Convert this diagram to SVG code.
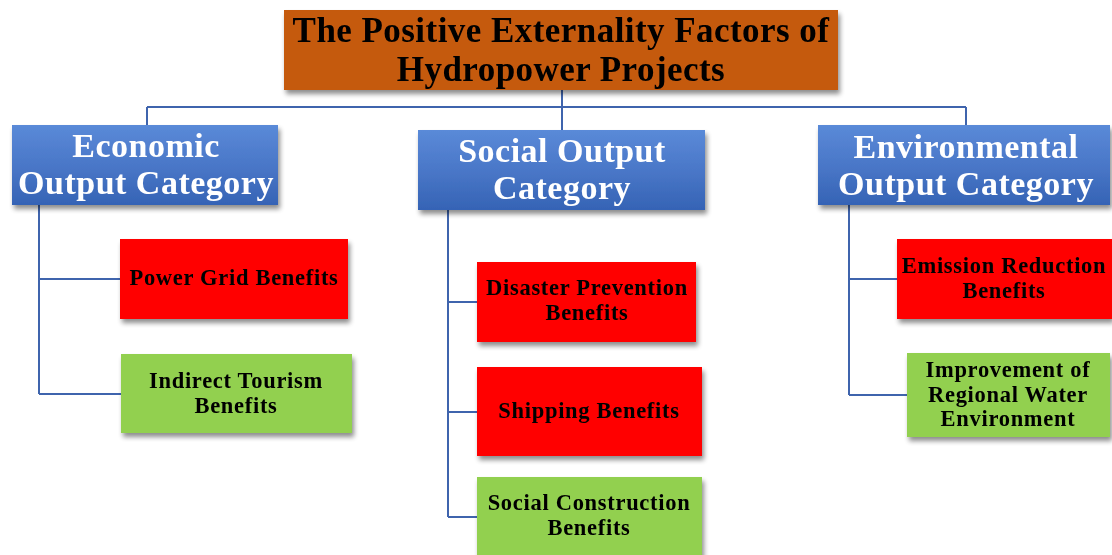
<svg xmlns="http://www.w3.org/2000/svg" width="1112" height="555" viewBox="0 0 1112 555">
<defs>
<linearGradient id="blueGrad" x1="0" y1="0" x2="0" y2="1">
<stop offset="0" stop-color="#5A8AD8"/>
<stop offset="0.5" stop-color="#4A77C8"/>
<stop offset="1" stop-color="#3563B5"/>
</linearGradient>
<filter id="shadow" x="-10%" y="-10%" width="125%" height="140%">
<feGaussianBlur in="SourceAlpha" stdDeviation="2.5"/>
<feOffset dx="2" dy="4" result="b"/>
<feComponentTransfer><feFuncA type="linear" slope="0.45"/></feComponentTransfer>
<feMerge><feMergeNode/><feMergeNode in="SourceGraphic"/></feMerge>
</filter>
</defs>
<style>
.conn{stroke:#3F64AD;stroke-width:2;fill:none}
.title{fill:#C55A11}
.cat{fill:url(#blueGrad)}
.red{fill:#FF0000}
.green{fill:#92D050}
text{font-family:"Liberation Serif","Times New Roman",serif;font-weight:bold;text-anchor:middle}
.tt{font-size:35px;fill:#000;letter-spacing:0.45px}
.ct{font-size:34px;fill:#fff;letter-spacing:0.5px}
.lt{font-size:22.5px;fill:#000;letter-spacing:0.7px}
</style>
<rect width="1112" height="555" fill="#fff"/>
<g id="connectors">
<path class="conn" d="M562 90 V107 M147 107 H966 M147 107 V125 M562 107 V130 M966 107 V125"/>
<path class="conn" d="M39 205 V394 M39 279 H120 M39 394 H121"/>
<path class="conn" d="M448 210 V517 M448 302 H477 M448 412 H477 M448 517 H477"/>
<path class="conn" d="M849 205 V395 M849 279 H897 M849 395 H907"/>
</g>
<g id="title" filter="url(#shadow)">
<rect class="title" x="284" y="10" width="554" height="80"/>
<text class="tt" x="561" y="42">The Positive Externality Factors of</text>
<text class="tt" x="561" y="81">Hydropower Projects</text>
</g>
<g id="economic" filter="url(#shadow)">
<rect class="cat" x="12" y="125" width="266" height="80"/>
<text class="ct" x="146" y="157">Economic</text>
<text class="ct" x="146" y="194">Output Category</text>
</g>
<g id="social" filter="url(#shadow)">
<rect class="cat" x="418" y="130" width="287" height="80"/>
<text class="ct" x="562" y="162">Social Output</text>
<text class="ct" x="562" y="199">Category</text>
</g>
<g id="environmental" filter="url(#shadow)">
<rect class="cat" x="818" y="125" width="292" height="80"/>
<text class="ct" x="966" y="158">Environmental</text>
<text class="ct" x="966" y="195">Output Category</text>
</g>
<g id="power-grid" filter="url(#shadow)">
<rect class="red" x="120" y="239" width="228" height="80"/>
<text class="lt" x="234" y="285">Power Grid Benefits</text>
</g>
<g id="indirect-tourism" filter="url(#shadow)">
<rect class="green" x="121" y="354" width="231" height="79"/>
<text class="lt" x="236" y="388">Indirect Tourism</text>
<text class="lt" x="236" y="413">Benefits</text>
</g>
<g id="disaster-prevention" filter="url(#shadow)">
<rect class="red" x="477" y="262" width="219" height="80"/>
<text class="lt" x="587" y="295">Disaster Prevention</text>
<text class="lt" x="587" y="320">Benefits</text>
</g>
<g id="shipping" filter="url(#shadow)">
<rect class="red" x="477" y="367" width="225" height="89"/>
<text class="lt" x="589" y="418">Shipping Benefits</text>
</g>
<g id="social-construction" filter="url(#shadow)">
<rect class="green" x="477" y="477" width="225" height="85"/>
<text class="lt" x="589" y="510">Social Construction</text>
<text class="lt" x="589" y="535">Benefits</text>
</g>
<g id="emission-reduction" filter="url(#shadow)">
<rect class="red" x="897" y="239" width="215" height="80"/>
<text class="lt" x="1004" y="273">Emission Reduction</text>
<text class="lt" x="1004" y="298">Benefits</text>
</g>
<g id="water-environment" filter="url(#shadow)">
<rect class="green" x="907" y="353" width="203" height="84"/>
<text class="lt" x="1008" y="377">Improvement of</text>
<text class="lt" x="1008" y="402">Regional Water</text>
<text class="lt" x="1008" y="426">Environment</text>
</g>
</svg>
